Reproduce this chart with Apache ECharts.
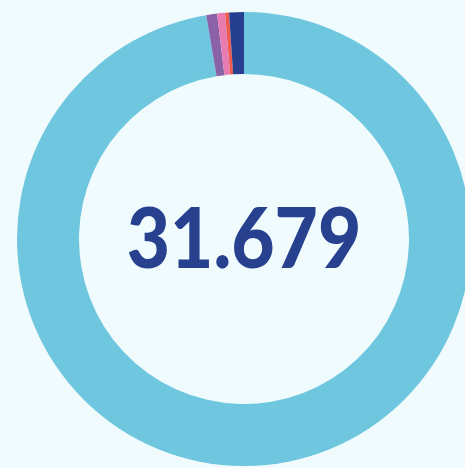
<!DOCTYPE html>
<html>
<head>
<meta charset="utf-8">
<script src="https://cdn.jsdelivr.net/npm/echarts@6/dist/echarts.min.js"></script>
<style>
  html, body { margin: 0; padding: 0; background: #f0fbfd; }
  #chart { width: 465px; height: 468px; }
</style>
</head>
<body>
<div id="chart"></div>
<script>
// slice names / values / colours, clockwise from 12 o'clock
const names = ['A', 'B', 'C', 'D', 'E']
const values = [30.836, 0.244, 0.177, 0.089, 0.333]
const colors = ['#6ec6df', '#8b62a8', '#e87cb1', '#ef5a4f', '#263f8f']
const centerLabel = '31.679'

const chart = echarts.init(document.getElementById('chart'))
chart.setOption({
  backgroundColor: '#f0fbfd',
  animation: false,
  graphic: [{
    type: 'text',
    x: 244,
    y: 241,
    scaleX: 0.89,
    style: {
      text: centerLabel,
      x: 0,
      y: 0,
      align: 'center',
      verticalAlign: 'middle',
      fill: '#27418f',
      font: '900 84px Lato, "Open Sans", sans-serif'
    }
  }],
  series: [{
    type: 'pie',
    center: [244, 239],
    radius: [165, 227],
    startAngle: 90,
    clockwise: true,
    label: { show: false },
    labelLine: { show: false },
    silent: true,
    data: values.map((v, i) => ({
      name: names[i],
      value: v,
      itemStyle: { color: colors[i] }
    }))
  }]
})
</script>
</body>
</html>
